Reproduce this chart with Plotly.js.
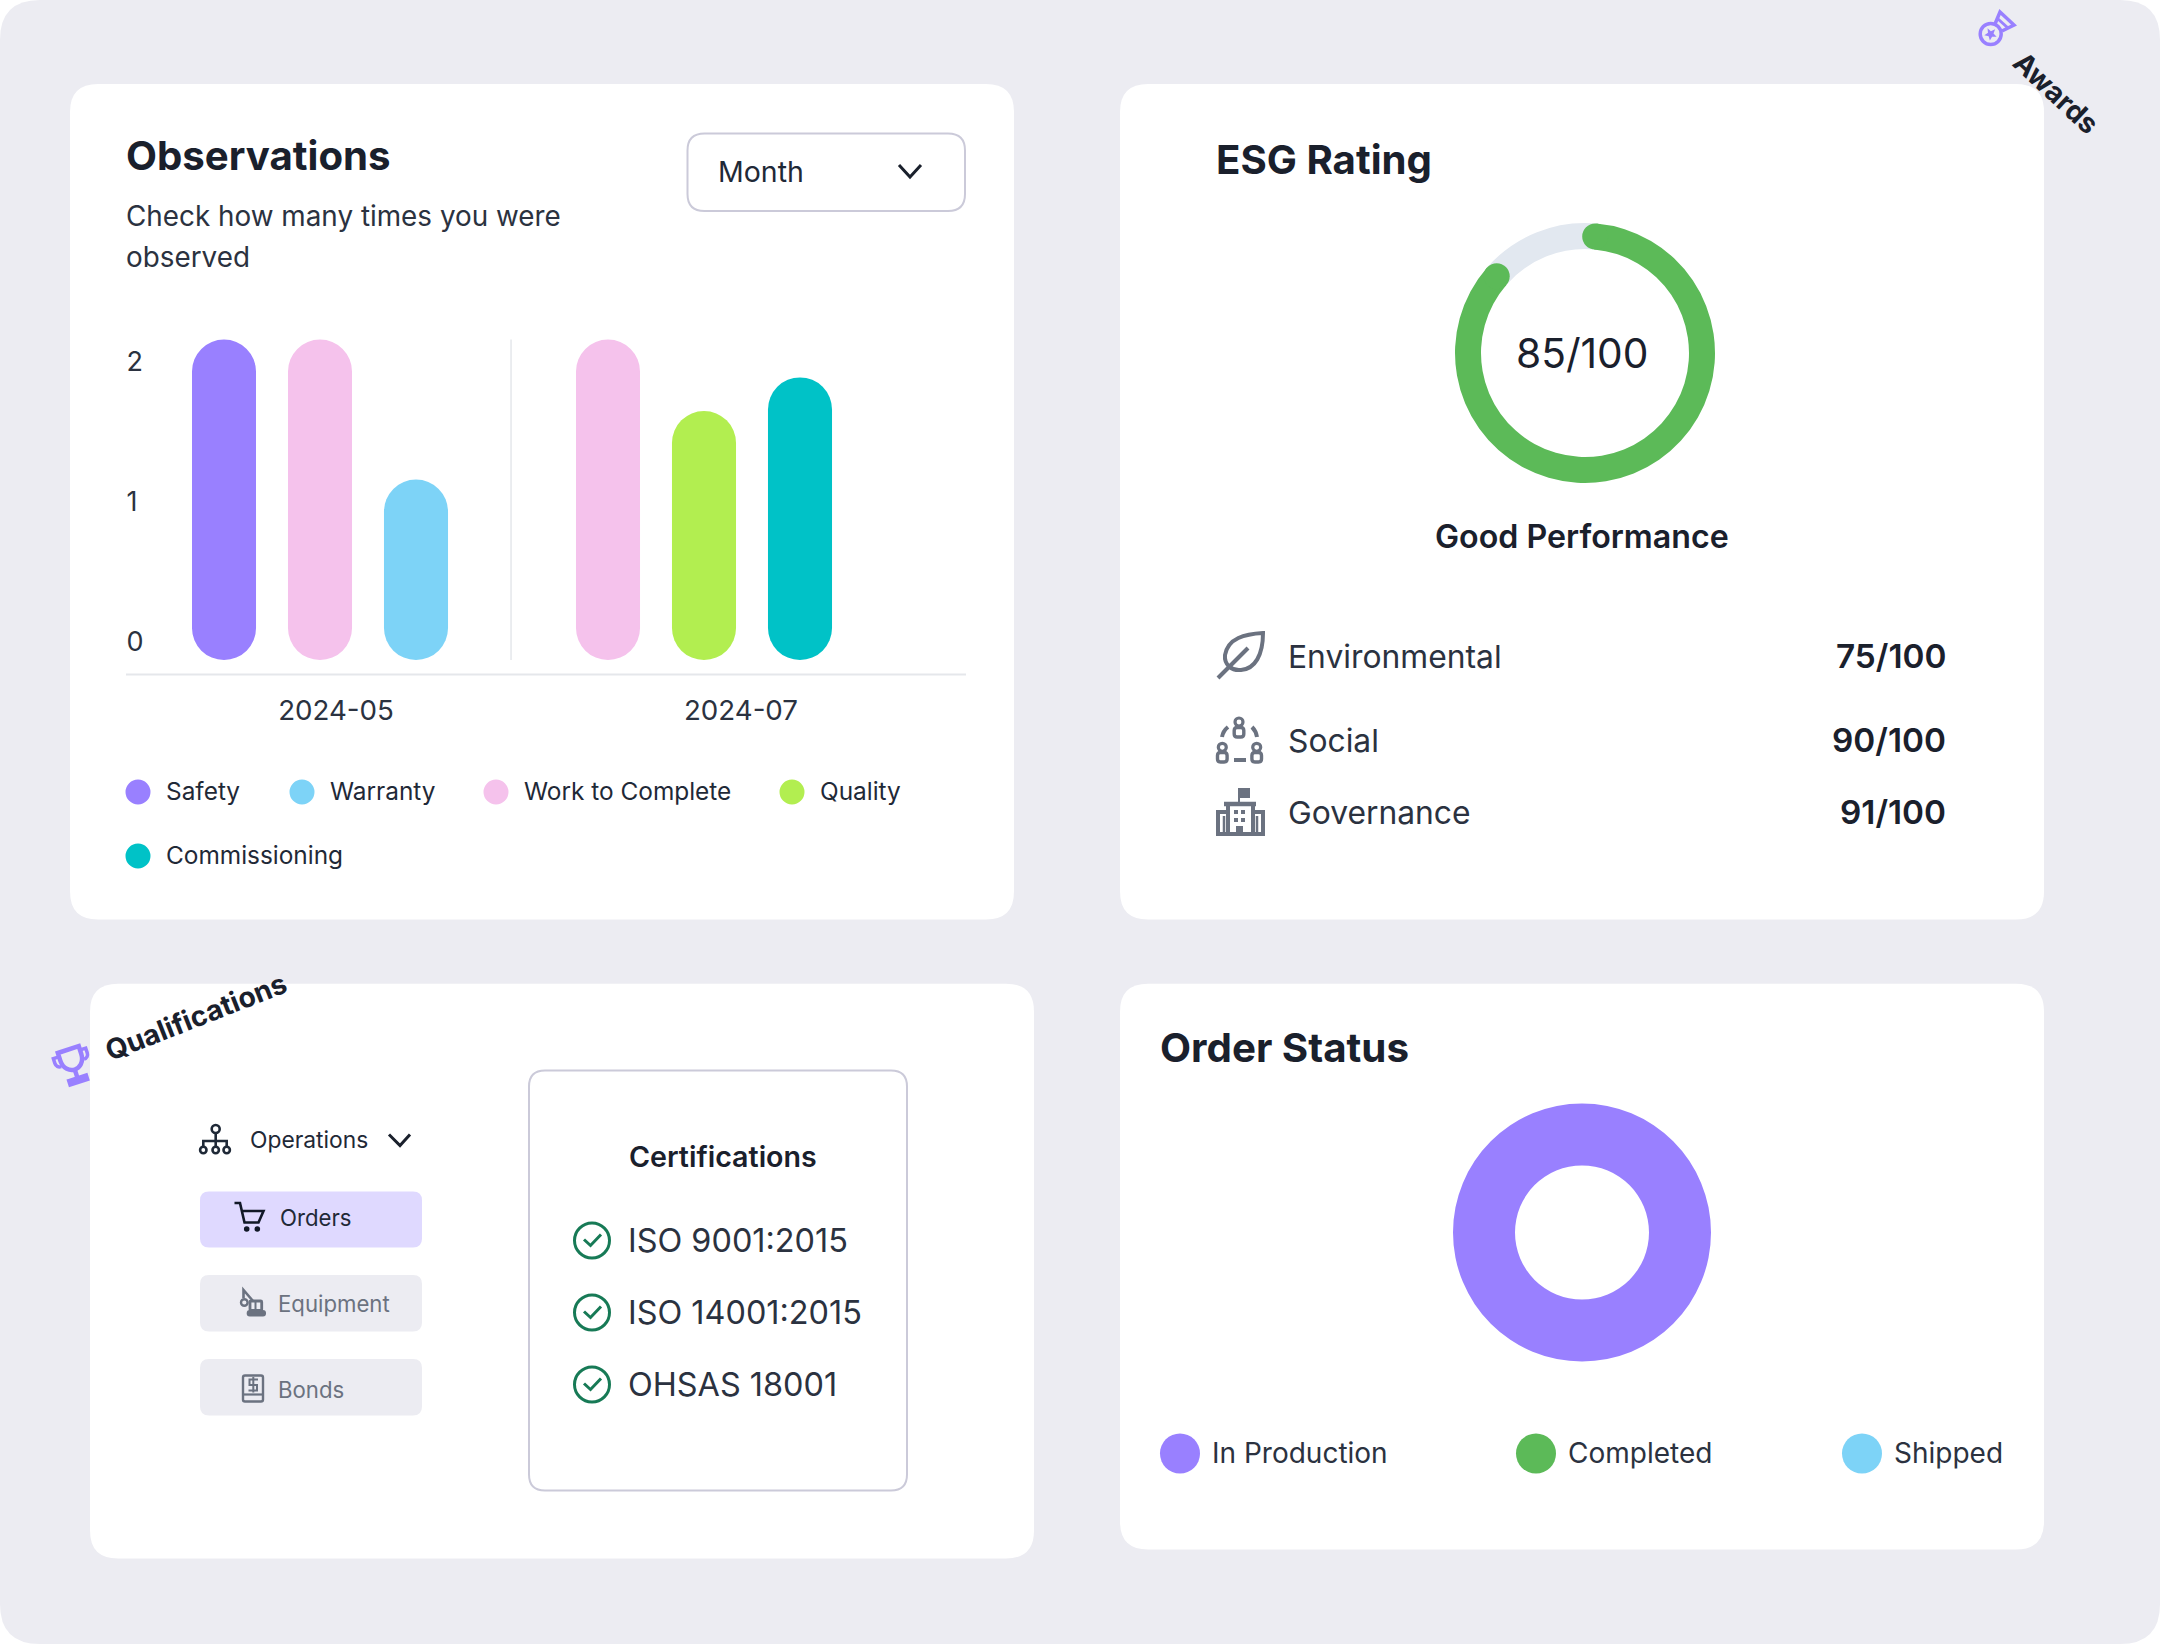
<!DOCTYPE html>
<html><head><meta charset="utf-8">
<script src="https://cdn.plot.ly/plotly-3.0.1.min.js"></script>
<style>html,body{margin:0;padding:0;background:#fff}#c{width:2160px;height:1644px}</style>
</head><body><div id="c"></div>
<script>
// ---- data ----
const monthLabels = ['2024-05', '2024-07'];
const safetyValues = [2.16];
const warrantyValues = [1.16];
const workValues = [2.16, 2.16];
const qualityValues = [1.65];
const commissioningValues = [1.89];
const yTicks = [0, 1, 2];
const obsLegend = ['Safety', 'Warranty', 'Work to Complete', 'Quality', 'Commissioning'];
const esgScore = [85, 15];
const esgPillars = ['Environmental', 'Social', 'Governance'];
const esgPillarScores = ['75/100', '90/100', '91/100'];
const certifications = ['ISO 9001:2015', 'ISO 14001:2015', 'OHSAS 18001'];
const menuItems = ['Orders', 'Equipment', 'Bonds'];
const orderLabels = ['In Production', 'Completed', 'Shipped'];
const orderValues = [1, 0, 0];

// ---- style ----
const C = {purple:'#9980FF', blue:'#7DD3F7', pink:'#F5C2EC', lime:'#B2EE50', teal:'#00C2C7', green:'#5CBA58',
  track:'#E2E8F0', page:'#ECECF2', border:'#CBCAD9', ink:'#1A202C', text:'#1F2937', gray:'#6B7280', chk:'#177A56'};
const F = 'Inter, "Noto Sans", sans-serif';
const W = 2160, H = 1644;
const shapes = [], ann = [];

function txt(x, y, s, size, weight, color, anchor, angle) {
  ann.push({xref:'x', yref:'y', x, y, text:s, showarrow:false, xanchor:anchor||'left', yanchor:'middle', borderpad:0,
    textangle:angle||0, font:{family:F, size, color:color||C.text, weight:weight||400}});
}
function fillPath(path, color, layer) { shapes.push({type:'path', xref:'x', yref:'y', path, fillcolor:color, line:{width:0}, layer:layer||'below'}); }
function strokePath(path, color, w, layer) { shapes.push({type:'path', xref:'x', yref:'y', path, fillcolor:'rgba(0,0,0,0)', line:{color, width:w}, layer:layer||'below'}); }
function rr(x0, y0, x1, y1, r) {
  return `M${x0+r},${y0} L${x1-r},${y0} Q${x1},${y0} ${x1},${y0+r} L${x1},${y1-r} Q${x1},${y1} ${x1-r},${y1} L${x0+r},${y1} Q${x0},${y1} ${x0},${y1-r} L${x0},${y0+r} Q${x0},${y0} ${x0+r},${y0} Z`;
}
function circ(cx, cy, r) {
  const k = r * 0.5523;
  return `M${cx+r},${cy} C${cx+r},${cy+k} ${cx+k},${cy+r} ${cx},${cy+r} C${cx-k},${cy+r} ${cx-r},${cy+k} ${cx-r},${cy} C${cx-r},${cy-k} ${cx-k},${cy-r} ${cx},${cy-r} C${cx+k},${cy-r} ${cx+r},${cy-k} ${cx+r},${cy} Z`;
}
function dot(cx, cy, r, color, layer) {
  shapes.push({type:'circle', xref:'x', yref:'y', x0:cx-r, x1:cx+r, y0:cy-r, y1:cy+r, fillcolor:color, line:{width:0}, layer:layer||'below'});
}
function place(path, cx, cy, deg) {
  const t = (deg||0) * Math.PI / 180, c = Math.cos(t), s = Math.sin(t);
  return path.replace(/(-?\d*\.?\d+),(-?\d*\.?\d+)/g, (m, a, b) => {
    a = +a; b = +b;
    return (cx + a*c - b*s).toFixed(2) + ',' + (cy + a*s + b*c).toFixed(2);
  });
}

// ---- page and cards ----
fillPath(rr(0, 0, W, H, 40), C.page);
[[70,84,1014,919.5],[1120,84,2044,919.5],[90,983.7,1034,1558.5],[1120,983.7,2044,1549.5]].forEach(b => fillPath(rr(b[0],b[1],b[2],b[3],28), '#FFFFFF'));

// ---- observations ----
txt(124.5, 155, 'Observations', 40.2, 700, C.ink);
txt(125, 215.5, 'Check how many times you were', 27.85, 400, '#2B3240');
txt(125, 256.5, 'observed', 27.85, 400, '#2B3240');
strokePath(rr(687.5, 133.5, 965, 211, 17), C.border, 2);
txt(717, 171.5, 'Month', 28.5, 400, C.text);
strokePath('M899,165 L910,177 L921,165', C.ink, 3);
const legendPos = [[138,791,165],[302,791,329],[496,791,523],[792,791,819],[138,855,165]];
const legendCol = [C.purple, C.blue, C.pink, C.lime, C.teal];
obsLegend.forEach((n, i) => { dot(legendPos[i][0], legendPos[i][1]+1, 12.5, legendCol[i]); txt(legendPos[i][2], legendPos[i][1], n, 24.4, 400, C.text); });

// bar slots on a linear axis; one slot = one bar pitch
const BASE = -0.129, BW = 0.667;
const series = [
  {x:[0], y:safetyValues, c:C.purple, n:'Safety'},
  {x:[1,4], y:workValues, c:C.pink, n:'Work to Complete'},
  {x:[2], y:warrantyValues, c:C.blue, n:'Warranty'},
  {x:[5], y:qualityValues, c:C.lime, n:'Quality'},
  {x:[6], y:commissioningValues, c:C.teal, n:'Commissioning'}
];
const traces = [{type:'scatter', x:[0,W], y:[0,H], mode:'none', xaxis:'x', yaxis:'y', hoverinfo:'skip', showlegend:false}];
series.forEach(s => {
  traces.push({type:'bar', name:s.n, x:s.x, y:s.y.map(v => v - BASE), base:BASE, width:BW, marker:{color:s.c, cornerradius:32, line:{width:0}}, xaxis:'x2', yaxis:'y2', showlegend:false});
});
shapes.push({type:'line', xref:'x2', yref:'y2', x0:2.99, x1:2.99, y0:BASE, y1:2.16, line:{color:'#E5E7EB', width:1.5}, layer:'below'});
shapes.push({type:'line', xref:'x', yref:'y', x0:126, x1:966, y0:674.5, y1:674.5, line:{color:'#E5E7EB', width:2}, layer:'below'});

// ---- ESG ----
txt(1214.5, 159.5, 'ESG Rating', 40.2, 700, C.ink);
const gCx = 1585, gCy = 353, gR = 130, gHole = 104/130, gRot = 5;
traces.push({type:'pie', values:esgScore, labels:['Score','Remaining'], sort:false, direction:'clockwise', rotation:gRot, hole:gHole, textinfo:'none', hoverinfo:'skip', showlegend:false,
  marker:{colors:[C.green, C.track], line:{width:0}},
  domain:{x:[(gCx-gR)/W,(gCx+gR)/W], y:[1-(gCy+gR)/H,1-(gCy-gR)/H]}});
const gMid = gR * (1 + gHole) / 2, capR = gR * (1 - gHole) / 2;
[gRot, gRot + 360 * esgScore[0] / (esgScore[0] + esgScore[1])].forEach(a => {
  const t = a * Math.PI / 180;
  dot(gCx + gMid*Math.sin(t), gCy - gMid*Math.cos(t), capR, C.green, 'above');
});
txt(1582, 353, esgScore[0] + '/100', 40.7, 400, C.ink, 'center');
txt(1582, 536, 'Good Performance', 32.2, 600, C.ink, 'center');
const rowY = [656, 740, 812];
esgPillars.forEach((n, i) => {
  txt(1286.5, rowY[i], n, 31.8, 400, '#2B3240');
  txt(1947, rowY[i], esgPillarScores[i], 33.3, 600, C.ink, 'right');
});
// leaf
strokePath('M1263,633 C1245,634 1228,638 1225,655 C1224,665 1232,671 1241,670 C1255,669 1263,655 1263,633 Z', C.gray, 4);
strokePath('M1218,678 L1248,648', C.gray, 4);
// social
[[1239,722,727.5],[1222.3,747.3,752.5],[1256.7,747.3,752.5]].forEach(p => {
  strokePath(circ(p[0], p[1], 4), C.gray, 3.2);
  strokePath(rr(p[0]-4.8, p[2], p[0]+4.8, p[2]+9.5, 3), C.gray, 3.4);
});
strokePath('M1222,737 Q1223,731 1228,727', C.gray, 4);
strokePath('M1252,727 Q1256,731 1257,737', C.gray, 4);
strokePath('M1234,760 L1246,760', C.gray, 4);
// building
fillPath('M1238,788 L1250,788 L1250,798 L1240,798 L1240,803 L1238,803 Z', C.gray);
strokePath('M1224,804 L1256,804', C.gray, 4.5);
strokePath('M1228,804 L1228,834 M1253,804 L1253,834', C.gray, 4);
strokePath('M1228,812 L1218,812 L1218,834 L1263,834 L1263,812 L1253,812', C.gray, 4);
strokePath('M1224,816 L1224,832 M1257,816 L1257,832', C.gray, 2.5);
fillPath('M1236,826 L1243,826 L1243,834 L1236,834 Z', C.gray);
[[1234,810],[1241,810],[1234,818],[1241,818]].forEach(p => fillPath(`M${p[0]},${p[1]} L${p[0]+4},${p[1]} L${p[0]+4},${p[1]+4} L${p[0]},${p[1]+4} Z`, C.gray));

// awards ribbon
strokePath(circ(1990.7, 34, 10.5), C.purple, 3.5);
fillPath(place('M0,-6.5 L1.8,-2.2 L6.2,-2 L2.8,1 L3.8,5.3 L0,3 L-3.8,5.3 L-2.8,1 L-6.2,-2 L-1.8,-2.2 Z', 1990.7, 34, 43), C.purple);
strokePath('M1995,24 L2000,12 L2014,25 L2002,31', C.purple, 3.5);
strokePath('M1998,19 L2008,28', C.purple, 3);
txt(2056, 93, 'Awards', 28.3, 700, C.ink, 'center', 43);

// ---- qualifications ----
const tX = 72, tY = 1061, tA = -18;
strokePath(place('M-11,-12 L11,-12 L11,-4 C11,5 5,9 0,9 C-5,9 -11,5 -11,-4 Z', tX, tY, tA), C.purple, 4.5);
strokePath(place('M-12,-8 L-17,-8 L-17,-3 C-17,0 -15,2 -12,2 M12,-8 L17,-8 L17,-3 C17,0 15,2 12,2', tX, tY, tA), C.purple, 3.5);
strokePath(place('M0,10 L0,17', tX, tY, tA), C.purple, 4.5);
strokePath(place('M-9,18 L9,18 L9,22 L-9,22 Z', tX, tY, tA), C.purple, 4);
txt(196, 1017, 'Qualifications', 28.2, 700, C.ink, 'center', -21.4);

strokePath(circ(215.7, 1129, 4), C.text, 2.6);
strokePath('M215.7,1133 L215.7,1146 M203.3,1146 L203.3,1141 L226.7,1141 L226.7,1146', C.text, 2.6);
[203.3, 215.7, 226.7].forEach(x => strokePath(circ(x, 1150, 3.2), C.text, 2.6));
txt(248.5, 1139, 'Operations', 22.8, 400, C.text);
strokePath('M389,1134.5 L400,1145.5 L410,1134.5', C.ink, 3);

const btnY = [[1191.5,1247.5],[1275,1331.5],[1359,1415.5]];
const btnFill = ['#DFD9FF', C.page, C.page];
const btnText = [[278.5,1217,C.text],[276.5,1303.5,C.gray],[276.5,1389,C.gray]];
menuItems.forEach((n, i) => {
  fillPath(rr(200, btnY[i][0], 422, btnY[i][1], 9), btnFill[i]);
  txt(btnText[i][0], btnText[i][1], n, 22.2, 400, btnText[i][2]);
});
strokePath('M234.5,1203 L240,1203 L244.5,1222.5 L258.5,1222.5 L263.5,1211 L241.8,1211', '#111827', 2.6);
dot(246.7, 1229, 2.8, '#111827'); dot(257.3, 1229, 2.8, '#111827');
strokePath(circ(244.3, 1302.5, 3.3), C.gray, 2.4);
strokePath('M243.5,1298 L243.5,1290 L253,1301', C.gray, 2.6);
strokePath(rr(250, 1301, 261.7, 1310.5, 1), C.gray, 2.8);
strokePath('M255.5,1301 L255.5,1310', C.gray, 2);
fillPath(rr(246.7, 1310, 266, 1316.5, 3), C.gray);
strokePath(rr(243, 1375.5, 263, 1401.5, 2), C.gray, 2.4);
strokePath('M243,1394.5 L263,1394.5', C.gray, 2.2);
strokePath('M258,1379.5 L249.5,1379.5 L249.5,1385 L257,1385 L257,1390.5 L248.5,1390.5 M253.3,1377 L253.3,1392.5', C.gray, 2);

strokePath(rr(529, 1070.5, 907, 1490.5, 16), C.border, 2);
txt(723, 1156, 'Certifications', 28.6, 600, C.ink, 'center');
const certY = [1240.5, 1312.5, 1384.5];
certifications.forEach((n, i) => {
  strokePath(circ(592, certY[i], 17.5), C.chk, 3);
  strokePath(`M584,${certY[i]-1} L590.5,${certY[i]+5} L601,${certY[i]-6}`, C.chk, 3);
  txt(626.5, certY[i]-0.5, n, 32.4, 400, '#2B3240');
});

// ---- order status ----
txt(1159, 1047, 'Order Status', 40.3, 700, C.ink);
const oCx = 1582, oCy = 1232.5, oR = 129;
const orderColors = [C.purple, C.green, C.blue];
traces.push({type:'pie', values:orderValues, labels:orderLabels, sort:false, hole:67/129, textinfo:'none', hoverinfo:'skip', showlegend:false,
  marker:{colors:orderColors, line:{width:0}},
  domain:{x:[(oCx-oR)/W,(oCx+oR)/W], y:[1-(oCy+oR)/H,1-(oCy-oR)/H]}});
const oLegendDot = [1180, 1536, 1862], oLegendTxt = [1210.5, 1566.5, 1892.5];
orderLabels.forEach((n, i) => { dot(oLegendDot[i], 1453.5, 20, orderColors[i]); txt(oLegendTxt[i], 1453, n, 28, 400, '#2B3240'); });

// slot scale: 96 px per slot, slot 0 centred at 224 px
const axL = 123.5, axR = 966;
const layout = {
  width:W, height:H, margin:{l:0,r:0,t:0,b:0}, autosize:false, paper_bgcolor:'#FFFFFF', plot_bgcolor:'rgba(0,0,0,0)',
  showlegend:false, hovermode:false, barmode:'overlay', font:{family:F},
  xaxis:{range:[0,W], domain:[0,1], visible:false, fixedrange:true, anchor:'y'},
  yaxis:{range:[H,0], domain:[0,1], visible:false, fixedrange:true, anchor:'x'},
  xaxis2:{domain:[axL/W,axR/W], range:[(axL-224)/96,(axR-224)/96], anchor:'y2', showgrid:false, zeroline:false,
    tickmode:'array', tickvals:[1.167,5.385], ticktext:monthLabels, ticks:'', showline:false,
    tickfont:{family:F, size:27.7, color:'#2B3240'}, ticklabelstandoff:16, fixedrange:true},
  yaxis2:{domain:[1-675/H,1-330/H], range:[(642-675)/140,(642-330)/140], anchor:'x2', showgrid:false, zeroline:false,
    tickmode:'array', tickvals:yTicks, ticktext:yTicks.map(String), ticks:'', showline:false, ticklabelposition:'inside',
    tickfont:{family:F, size:27, color:'#2B3240'}, fixedrange:true},
  shapes, annotations:ann
};
Plotly.newPlot('c', traces, layout, {displayModeBar:false, staticPlot:true});
</script></body></html>
